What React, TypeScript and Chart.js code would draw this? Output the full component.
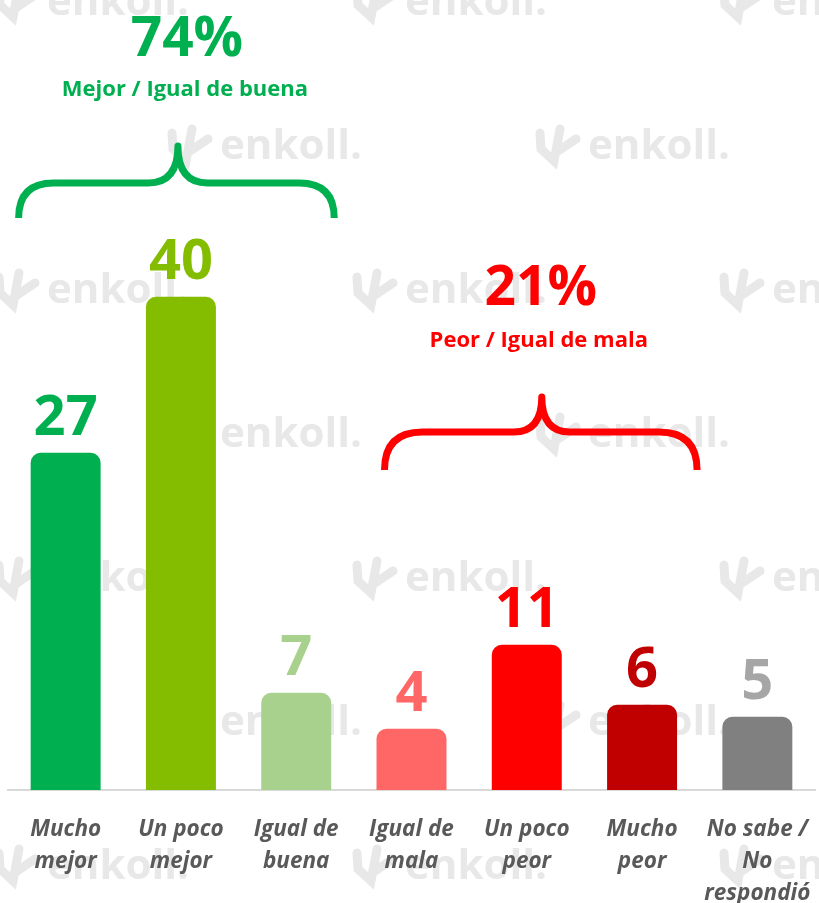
import React, { useEffect, useRef } from "react";
import { Chart, registerables } from "chart.js";

Chart.register(...registerables);

const categories: string[][] = [
  ["Mucho", "mejor"],
  ["Un poco", "mejor"],
  ["Igual de", "buena"],
  ["Igual de", "mala"],
  ["Un poco", "peor"],
  ["Mucho", "peor"],
  ["No sabe /", "No", "respondió"],
];
const values = [27, 40, 7, 4, 11, 6, 5];
const barColors = ["#00B050", "#84BD00", "#A9D18E", "#FF6666", "#FF0000", "#C00000", "#808080"];
const labelColors = ["#00B050", "#84BD00", "#A9D18E", "#FF6666", "#FF0000", "#C00000", "#A6A6A6"];
const groupTotals = ["74%", "21%"];
const groupLabels = ["Mejor / Igual de buena", "Peor / Igual de mala"];
const groupColors = ["#00B050", "#FF0000"];
const watermarkText = "enkoll.";

const AXIS_MIN = -1.1;

function drawBrace(ctx: CanvasRenderingContext2D, x1: number, x2: number, xc: number, yBottom: number, yMid: number, yTip: number, color: string) {
  const r = yBottom - yMid;
  const ri = yMid - yTip;
  ctx.save();
  ctx.strokeStyle = color;
  ctx.lineWidth = 7;
  ctx.lineCap = "butt";
  ctx.lineJoin = "round";
  ctx.beginPath();
  ctx.moveTo(x1, yBottom);
  ctx.quadraticCurveTo(x1, yMid, x1 + r, yMid);
  ctx.lineTo(xc - ri * 0.8, yMid);
  ctx.quadraticCurveTo(xc, yMid, xc, yTip);
  ctx.quadraticCurveTo(xc, yMid, xc + ri * 0.8, yMid);
  ctx.lineTo(x2 - r, yMid);
  ctx.quadraticCurveTo(x2, yMid, x2, yBottom);
  ctx.stroke();
  ctx.restore();
}

function drawLogo(ctx: CanvasRenderingContext2D, x: number, base: number) {
  ctx.save();
  ctx.strokeStyle = "#E8E8E8";
  ctx.lineWidth = 9;
  ctx.lineCap = "round";
  ctx.beginPath();
  ctx.moveTo(x + 4, base - 26);
  ctx.lineTo(x + 5, base - 10);
  ctx.lineTo(x + 18, base + 2);
  ctx.lineTo(x + 24, base - 30);
  ctx.stroke();
  ctx.beginPath();
  ctx.moveTo(x + 22, base - 8);
  ctx.lineTo(x + 40, base - 20);
  ctx.stroke();
  ctx.restore();
}

const backgroundPlugin = {
  id: "bgWatermark",
  beforeDraw(chart: any) {
    const ctx = chart.ctx as CanvasRenderingContext2D;
    ctx.save();
    ctx.fillStyle = "#FFFFFF";
    ctx.fillRect(0, 0, chart.width, chart.height);
    ctx.font = "bold 42px 'Open Sans'";
    ctx.fillStyle = "#E8E8E8";
    ctx.textBaseline = "alphabetic";
    ctx.textAlign = "left";
    const rowStart = 15;
    const rowStep = 144;
    for (let r = 0; r < 7; r++) {
      const base = rowStart + r * rowStep;
      const xs = r % 2 === 0 ? [47, 405, 772] : [220, 588];
      for (const tx of xs) {
        drawLogo(ctx, tx - 52, base);
        ctx.fillText(watermarkText, tx, base);
      }
    }
    ctx.restore();
  },
};

const overlayPlugin = {
  id: "overlay",
  afterDatasetsDraw(chart: any) {
    const ctx = chart.ctx as CanvasRenderingContext2D;
    const meta = chart.getDatasetMeta(0);
    const xScale = chart.scales.x;
    const top = chart.chartArea.top;
    ctx.save();
    ctx.textAlign = "center";
    ctx.textBaseline = "alphabetic";
    ctx.font = "bold 56px 'Open Sans'";
    meta.data.forEach((bar: any, i: number) => {
      ctx.fillStyle = labelColors[i];
      ctx.fillText(String(values[i]), bar.x, bar.y - 18);
    });
    const groups = [
      { from: 0, to: 2, left: -47, right: 38, tipDx: -3, textDx: 9, tipY: top + 136, midY: top + 173, botY: top + 208, totY: top + 46, labY: top + 86 },
      { from: 3, to: 5, left: -27, right: 55, tipDx: 15, textDx: -1, tipY: top + 387, midY: top + 422, botY: top + 460, totY: top + 295, labY: top + 337 },
    ];
    groups.forEach((g, gi) => {
      const x1 = xScale.getPixelForValue(g.from) + g.left;
      const x2 = xScale.getPixelForValue(g.to) + g.right;
      const xc = xScale.getPixelForValue((g.from + g.to) / 2) + g.tipDx;
      drawBrace(ctx, x1, x2, xc, g.botY, g.midY, g.tipY, groupColors[gi]);
      ctx.fillStyle = groupColors[gi];
      ctx.textAlign = "center";
      ctx.font = "bold 55px 'Open Sans'";
      ctx.fillText(groupTotals[gi], xc + g.textDx, g.totY);
      ctx.font = "bold 22px 'Open Sans'";
      ctx.fillText(groupLabels[gi], xc + g.textDx - 2, g.labY);
    });
    ctx.restore();
  },
};

export default function App() {
  const canvasRef = useRef<HTMLCanvasElement | null>(null);

  useEffect(() => {
    if (!canvasRef.current) return;
    const chart = new Chart(canvasRef.current, {
      type: "bar",
      data: {
        labels: categories,
        datasets: [
          {
            data: values,
            backgroundColor: barColors,
            borderWidth: 0,
            borderRadius: { topLeft: 10, topRight: 10, bottomLeft: 0, bottomRight: 0 },
            borderSkipped: "bottom",
            base: AXIS_MIN,
            barPercentage: 0.607,
            categoryPercentage: 1,
          } as any,
        ],
      },
      options: {
        responsive: false,
        animation: false,
        maintainAspectRatio: false,
        layout: { padding: { left: 8, right: 4, top: 10, bottom: -23 } },
        plugins: {
          legend: { display: false },
          tooltip: { enabled: false },
          title: { display: false },
        },
        scales: {
          x: {
            grid: { display: false },
            border: { display: true, color: "#D9D9D9", width: 2 },
            afterFit: (scale: any) => {
              scale.paddingLeft = 0;
              scale.paddingRight = 0;
            },
            ticks: {
              autoSkip: false,
              maxRotation: 0,
              minRotation: 0,
              padding: 16,
              color: "#595959",
              font: { family: "'Open Sans'", size: 22.5, style: "italic", weight: "bold", lineHeight: 32 / 22.5 },
            },
          } as any,
          y: {
            display: false,
            min: AXIS_MIN,
            max: 63.9,
          },
        },
      },
      plugins: [backgroundPlugin, overlayPlugin],
    });
    return () => chart.destroy();
  }, []);

  return (
    <div style={{ position: "absolute", left: 0, top: 0, width: 819, height: 903 }}>
      <canvas ref={canvasRef} width={819} height={903} style={{ width: 819, height: 903, display: "block" }} />
    </div>
  );
}
